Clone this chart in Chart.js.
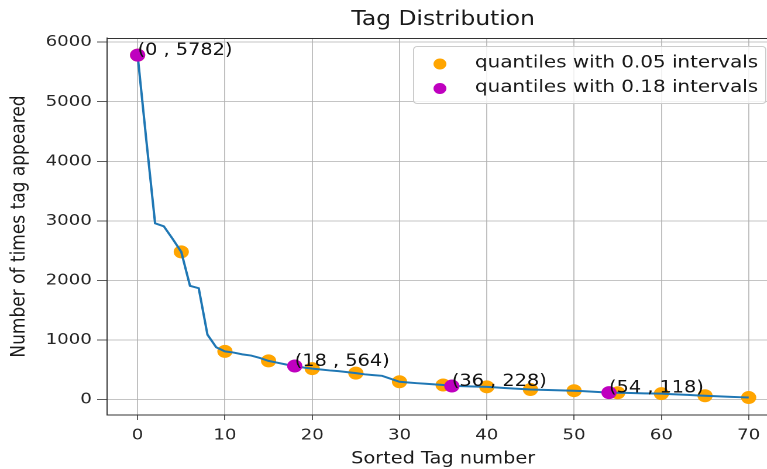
<!DOCTYPE html>
<html>
<head>
<meta charset="utf-8">
<script src="https://cdn.jsdelivr.net/npm/chart.js@4/dist/chart.umd.min.js"></script>
<style>
  html, body { margin: 0; padding: 0; background: #fff; overflow: hidden; }
  #wrap { width: 767px; height: 469px; overflow: hidden; position: relative; }
  #c { position: absolute; left: 0; top: 0; transform: scaleX(1.17); transform-origin: 0 0; }
</style>
</head>
<body>
<div id="wrap"><canvas id="c" width="700" height="469"></canvas></div>
<script>
// ---- data ----
const tagIndex = [0,1,2,3,4,5,6,7,8,9,10,11,12,13,14,15,16,17,18,19,20,21,22,23,24,25,26,27,28,29,30,31,32,33,34,35,36,37,38,39,40,41,42,43,44,45,46,47,48,49,50,51,52,53,54,55,56,57,58,59,60,61,62,63,64,65,66,67,68,69,70];
const tagCounts = [5782,4350,2960,2910,2700,2480,1910,1870,1090,880,810,790,760,740,700,650,620,590,564,540,520,505,490,478,462,445,425,412,400,350,300,288,276,266,256,245,228,226,223,219,215,206,196,186,178,170,166,162,158,154,150,142,134,126,118,116,113,110,106,103,100,93,86,79,72,65,59,53,47,41,35];
const q05Index = [0,5,10,15,20,25,30,35,40,45,50,55,60,65,70];
const q18Index = [0,18,36,54];
const xTicks = [0,10,20,30,40,50,60,70];
const yTicks = [0,1000,2000,3000,4000,5000,6000];
const titleText = 'Tag Distribution';
const xLabel = 'Sorted Tag number';
const yLabel = 'Number of times tag appeared';
const legendLabels = ['quantiles with 0.05 intervals', 'quantiles with 0.18 intervals'];
const legendColors = ['#ffa500', '#bf00bf'];

const linePts = tagIndex.map((x, i) => ({x: x, y: tagCounts[i]}));
const q05Pts = q05Index.map(i => ({x: tagIndex[i], y: tagCounts[i]}));
const q18Pts = q18Index.map(i => ({x: tagIndex[i], y: tagCounts[i]}));

const FONT = 'DejaVu Sans';
Chart.defaults.font.family = FONT;

const extras = {
  id: 'extras',
  afterDraw(chart) {
    const ctx = chart.ctx;
    const a = chart.chartArea;
    const xs = chart.scales.x, ys = chart.scales.y;
    ctx.save();
    // top & right spines
    ctx.strokeStyle = '#333';
    ctx.lineWidth = 1;
    ctx.beginPath();
    ctx.moveTo(a.left, a.top + 0.5); ctx.lineTo(a.right, a.top + 0.5);
    ctx.moveTo(a.right - 0.5, a.top); ctx.lineTo(a.right - 0.5, a.bottom);
    ctx.stroke();
    // title
    ctx.fillStyle = '#1a1a1a';
    ctx.font = '20px "' + FONT + '"';
    ctx.textAlign = 'center';
    ctx.textBaseline = 'middle';
    ctx.fillText(titleText, (a.left + a.right) / 2, 20);
    // annotations
    ctx.font = '16.5px "' + FONT + '"';
    ctx.textAlign = 'left';
    ctx.textBaseline = 'alphabetic';
    ctx.fillStyle = '#111';
    q18Pts.forEach(p => {
      ctx.fillText('(' + p.x + ' , ' + p.y + ')', xs.getPixelForValue(p.x), ys.getPixelForValue(p.y));
    });
    // legend box
    const bx = 353, by = 46, bw = 654 - 353, bh = 57;
    ctx.fillStyle = 'rgba(255,255,255,0.8)';
    ctx.strokeStyle = '#cccccc';
    ctx.lineWidth = 1;
    ctx.beginPath();
    ctx.roundRect(bx + 0.5, by + 0.5, bw, bh, 3);
    ctx.fill();
    ctx.stroke();
    ctx.font = '17px "' + FONT + '"';
    ctx.textBaseline = 'middle';
    legendLabels.forEach((t, i) => {
      const cy = by + 17 + i * 24.5;
      ctx.fillStyle = legendColors[i];
      ctx.beginPath();
      ctx.arc(376, cy + 1, 5.5, 0, Math.PI * 2);
      ctx.fill();
      ctx.fillStyle = '#1a1a1a';
      ctx.fillText(t, 406, cy);
    });
    ctx.restore();
  }
};

new Chart(document.getElementById('c'), {
  type: 'scatter',
  data: {
    datasets: [
      { label: legendLabels[1], data: q18Pts, backgroundColor: legendColors[1], borderColor: legendColors[1], pointRadius: 6, order: 0 },
      { type: 'line', label: 'counts', data: linePts, borderColor: '#1f77b4', borderWidth: 2, pointRadius: 0, tension: 0, fill: false, order: 1 },
      { label: legendLabels[0], data: q05Pts, backgroundColor: legendColors[0], borderColor: legendColors[0], pointRadius: 6, order: 2 }
    ]
  },
  options: {
    responsive: false,
    animation: false,
    devicePixelRatio: 2,
    layout: { padding: { top: 38, right: 34, left: 0, bottom: 0 } },
    plugins: { legend: { display: false }, tooltip: { enabled: false }, title: { display: false } },
    scales: {
      x: {
        type: 'linear', min: -3.5, max: 73.5,
        afterBuildTicks: s => { s.ticks = xTicks.map(v => ({value: v})); },
        afterFit: s => { s.height = 54; },
        grid: { color: '#b0b0b0', lineWidth: 0.8, tickColor: '#333', tickLength: 5, drawTicks: true },
        border: { display: true, color: '#333', width: 1 },
        ticks: { font: { size: 15.5 }, color: '#262626', padding: 6, maxRotation: 0 },
        title: { display: true, text: xLabel, font: { size: 16.5 }, color: '#1a1a1a', padding: { top: 0, bottom: 0 } }
      },
      y: {
        type: 'linear', min: -258, max: 6070,
        afterBuildTicks: s => { s.ticks = yTicks.map(v => ({value: v})); },
        afterFit: s => { s.width = 91.5; },
        grid: { color: '#b0b0b0', lineWidth: 0.8, tickColor: '#333', tickLength: 8.5, drawTicks: true },
        border: { display: true, color: '#333', width: 1 },
        ticks: { font: { size: 15.5 }, color: '#262626', padding: 4.5, callback: v => String(v) },
        title: { display: true, text: yLabel, font: { size: 17 }, color: '#1a1a1a', padding: { top: 6.5, bottom: 0 } }
      }
    }
  },
  plugins: [extras]
});
</script>
</body>
</html>
